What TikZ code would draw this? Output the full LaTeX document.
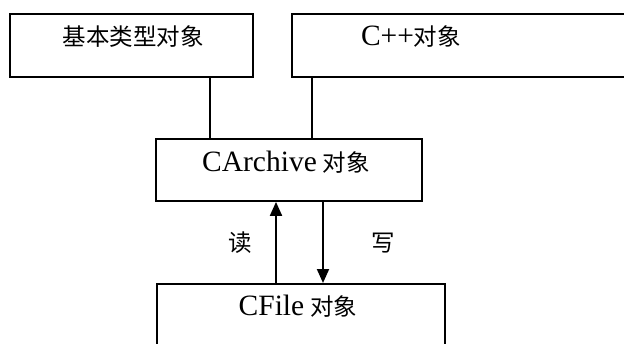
\documentclass[tikz,border=0pt]{standalone}
\usepackage{fontspec}
\setmainfont{Liberation Serif}
\newfontfamily\cjk{Noto Sans CJK SC}
\newfontfamily\lat{Liberation Serif}
\usetikzlibrary{arrows.meta}
\newcommand{\latsz}{\fontsize{29.5}{31}\selectfont\lat}
\newcommand{\cjksz}{\fontsize{23.5}{26}\selectfont\cjk}
\tikzset{
  box/.style={draw=black, line width=1.9pt, fill=white, anchor=north west, inner sep=0pt},
  lbl/.style={inner sep=0pt, anchor=center},
  conn/.style={draw=black, line width=1.9pt},
  arr/.style={conn, -{Triangle[width=12pt,length=14pt]}}
}
\begin{document}
\begin{tikzpicture}[x=1pt,y=-1pt]
\clip (0,0) rectangle (624,343);
\fill[white] (0,0) rectangle (624,343);
% boxes
\node[box, minimum width=243pt, minimum height=63pt] (b1) at (9,13) {};
\node[box, minimum width=345pt, minimum height=63pt] (b2) at (291,13) {};
\node[box, minimum width=266pt, minimum height=62pt] (b3) at (155,138) {};
\node[box, minimum width=288pt, minimum height=90pt] (b4) at (156,283) {};
% texts
\node[lbl] (t1) at (133,37) {\cjksz 基本类型对象};
\node[lbl] (t2) at (411,37) {{\latsz C++}{\cjksz 对象}};
\node[lbl] (t3) at (286,162) {{\latsz CArchive}\hspace{6pt}{\cjksz 对象}};
\node[lbl] (t4) at (298,306) {{\latsz CFile}\hspace{6pt}{\cjksz 对象}};
\node[lbl] (r) at (240,243) {\cjksz 读};
\node[lbl] (w) at (383,243) {\cjksz 写};
% connectors
\coordinate (p1) at (210,0);
\coordinate (p2) at (312,0);
\coordinate (pu) at (276,0);
\coordinate (pd) at (323,0);
\draw[conn] (p1 |- b1.south) -- (p1 |- b3.north);
\draw[conn] (p2 |- b2.south) -- (p2 |- b3.north);
\draw[arr] (pu |- b4.north) -- (pu |- b3.south);
\draw[arr] (pd |- b3.south) -- (pd |- b4.north);
\end{tikzpicture}
\end{document}
